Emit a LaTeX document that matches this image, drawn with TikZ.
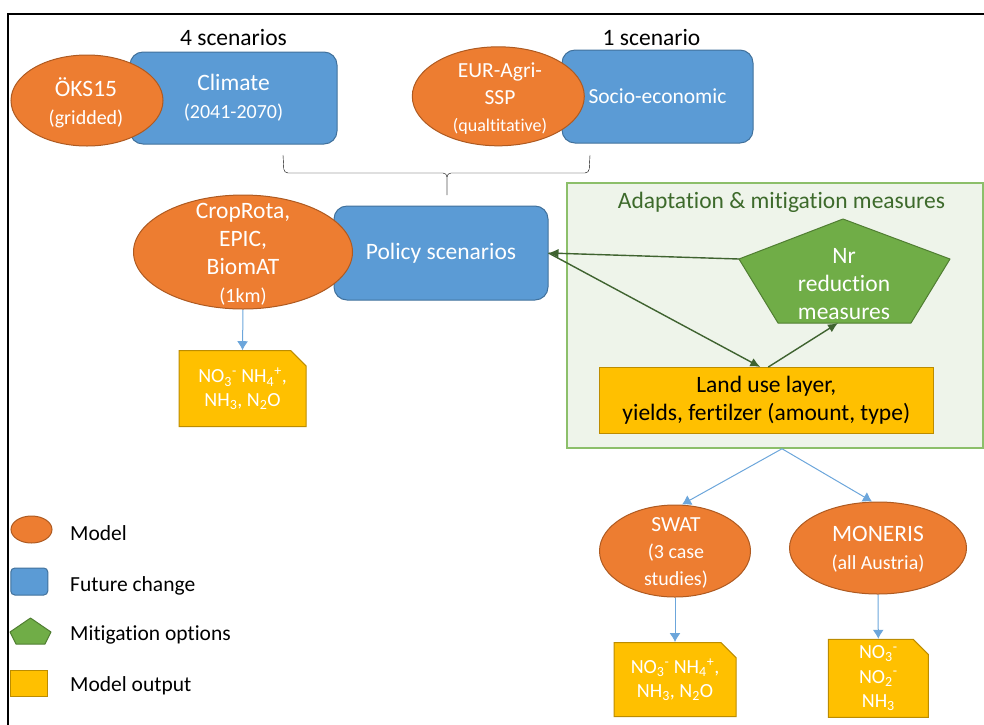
\documentclass[tikz,border=0pt]{standalone}
\usepackage{fontspec}
\setmainfont{Carlito}[Ligatures=NoCommon]
\usepackage{tikz}
\usetikzlibrary{shapes.geometric}
\usetikzlibrary{shapes.misc}
\usetikzlibrary{arrows.meta}
\tikzset{>={Latex[length=10pt, width=9pt]}}

\definecolor{orgfill}{HTML}{ED7D31}
\definecolor{orgline}{HTML}{AE5A21}
\definecolor{bluefill}{HTML}{5B9BD5}
\definecolor{blueline}{HTML}{41719C}
\definecolor{grnfill}{HTML}{70AD47}
\definecolor{grnline}{HTML}{507E32}
\definecolor{goldfill}{HTML}{FFC000}
\definecolor{goldline}{HTML}{BC8C00}
\definecolor{zonefill}{HTML}{EEF4EA}
\definecolor{zoneline}{HTML}{8CBF6A}
\definecolor{darkgrn}{HTML}{3D6A2B}
\definecolor{arrowgrn}{HTML}{3F6330}
\definecolor{arrowblue}{HTML}{6CA6DB}

\newcommand{\bigtxt}{\fontsize{23.5}{28}\selectfont}
\newcommand{\midtxt}{\fontsize{21.5}{27}\selectfont}
\newcommand{\smalltxt}{\fontsize{20}{24}\selectfont}
\newcommand{\tinytxt}{\fontsize{18}{22}\selectfont}
\newcommand{\legtxt}{\fontsize{21.5}{26}\selectfont}
\newcommand{\outtxt}{\fontsize{20}{23.5}\selectfont}

\tikzset{
    model/.style={ellipse, draw=orgline, fill=orgfill, line width=1pt, inner sep=0pt},
    modeltxt/.style={text=white, align=center, font=\bigtxt, inner sep=0pt},
    change/.style={rectangle, rounded corners=13pt, draw=blueline, fill=bluefill, line width=1pt,
        text=white, align=center, font=\bigtxt, inner sep=0pt},
    mitig/.style={draw=grnline, fill=grnfill, line width=1pt, line join=round},
    output/.style={chamfered rectangle, chamfered rectangle corners=north east,
        chamfered rectangle xsep=12pt, draw=goldline, fill=goldfill, line width=1pt,
        inner sep=0pt, text=white, align=center, font=\outtxt},
    zone/.style={rectangle, draw=zoneline, fill=zonefill, line width=1.5pt, inner sep=0pt},
    note/.style={font=\bigtxt, inner sep=0pt},
    legend/.style={font=\legtxt, inner sep=0pt, anchor=base west},
    flow/.style={->, >={Latex[length=9pt, width=11pt]}, draw=arrowblue, line width=1pt},
    link/.style={->, draw=arrowgrn, line width=1.4pt}
}

\begin{document}
\begin{tikzpicture}[x=1pt, y=-1pt]
    \useasboundingbox (0,0) rectangle (984,724);
    \draw[line width=1.3pt] (8,730)--(8,14)--(990,14);

    % scenario inputs
    \node[note] (sc4) at (233.5,37) {4 scenarios};
    \node[note] (sc1) at (651.5,37) {1 scenario};
    \node[change, minimum width=207pt, minimum height=92pt] (clim) at (233.5,98) {Climate\\{\smalltxt (2041-2070)}};
    \node[change, font=\midtxt, minimum width=191pt, minimum height=93pt] (soc) at (657.5,96.5) {Socio-economic};
    \node[model, minimum width=152pt, minimum height=91pt] (oks) at (87,100.5) {};
    \node[modeltxt] (oks-t) at (86,102.5) {ÖKS15\\{\smalltxt (gridded)}};
    \node[model, minimum width=172pt, minimum height=99pt] (eur) at (498.3,96.3) {};
    \node[modeltxt, font=\midtxt] (eur-t) at (500,99) {EUR-Agri-\\SSP\\{\tinytxt (qualtitative)}};
    \draw[rounded corners=4pt] (283,155)--(284,173)--(447,173)--(447,195);
    \draw[rounded corners=4pt] (447,195)--(447,173)--(589,173)--(590,155);

    % policy and crop models
    \node[change, minimum width=214pt, minimum height=94pt] (pol) at (441,253) {Policy scenarios};
    \node[model, minimum width=219pt, minimum height=114pt] (crop) at (243,252) {};
    \node[modeltxt] (crop-t) at (243,254.5) {CropRota,\\EPIC,\\BiomAT\\{\smalltxt (1km)}};
    \node[output, minimum width=127pt, minimum height=76pt] (o1) at (242.5,388.7)
        {NO\textsubscript{3}\textsuperscript{-} NH\textsubscript{4}\textsuperscript{+},\\NH\textsubscript{3}, N\textsubscript{2}O};
    \draw[flow] (crop.south)--(o1.north);

    % adaptation & mitigation
    \node[zone, minimum width=416pt, minimum height=265pt] (zone) at (775,315.5) {};
    \node[text=darkgrn, font=\bigtxt, inner sep=0pt] (zone-t) at (781.5,202) {Adaptation \& mitigation measures};
    \draw[mitig] (843,219) coordinate (nrT)--(950,259) coordinate (nrR)--(911,323)--(778,323)--(739,259) coordinate (nrL)--cycle;
    \coordinate (nrB) at (838,323);
    \node[modeltxt] (nr) at (844,284) {Nr\\reduction\\measures};
    \node[rectangle, draw=goldline, fill=goldfill, line width=1pt, font=\bigtxt, align=center,
        minimum width=334pt, minimum height=66pt, inner sep=0pt] (land) at (766.3,400.5)
        {Land use layer,\\yields, fertilzer (amount, type)};
    \draw[link] (nrL)--(pol.east);
    \draw[link] (pol.east)--([xshift=-6pt]land.north);
    \draw[link] ([xshift=2pt]land.north)--(nrB);

    % water quality models
    \node[model, minimum width=151pt, minimum height=92pt] (swat) at (675,551) {};
    \node[modeltxt, font=\midtxt] (swat-t) at (676,553) {SWAT\\{\smalltxt (3 case}\\{\smalltxt studies)}};
    \node[model, minimum width=177pt, minimum height=92pt] (mon) at (878,548) {};
    \node[modeltxt] (mon-t) at (878,549.5) {MONERIS\\{\smalltxt (all Austria)}};
    \draw[flow] ([xshift=7pt]zone.south)--([xshift=7pt]swat.north);
    \draw[flow] ([xshift=7pt]zone.south)--([xshift=-6pt]mon.north);
    \node[output, minimum width=122pt, minimum height=74pt] (o2) at (675,679.5)
        {NO\textsubscript{3}\textsuperscript{-} NH\textsubscript{4}\textsuperscript{+},\\NH\textsubscript{3}, N\textsubscript{2}O};
    \node[output, font=\fontsize{20}{24.5}\selectfont, minimum width=100pt, minimum height=78pt] (o3) at (878.3,678.3)
        {NO\textsubscript{3}\textsuperscript{-}\\NO\textsubscript{2}\textsuperscript{-}\\NH\textsubscript{3}};
    \draw[flow] (swat.south)--(o2.north);
    \draw[flow] (mon.south)--(o3.north);

    % legend
    \node[model, minimum width=41pt, minimum height=27pt] (lg-model) at (31.5,529.5) {};
    \node[legend] at (70,540.7) {Model};
    \node[change, rounded corners=4pt, minimum width=37pt, minimum height=27pt] (lg-change) at (29.3,581.5) {};
    \node[legend] at (70,591.7) {Future change};
    \draw[mitig] (30.5,618)--(51,632)--(45,644)--(16,644)--(10,632)--cycle;
    \node[legend] at (70,640.7) {Mitigation options};
    \node[output, chamfered rectangle xsep=6pt, minimum width=37pt, minimum height=26pt] (lg-out) at (29.3,683) {};
    \node[legend] at (70,691.7) {Model output};
\end{tikzpicture}
\end{document}
